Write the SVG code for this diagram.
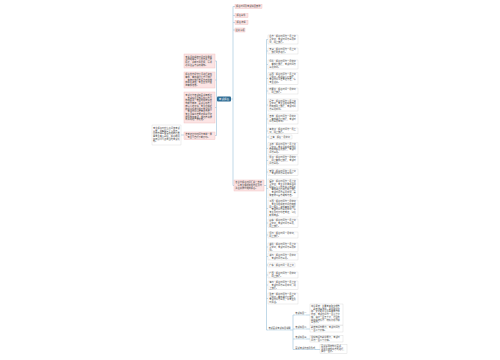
<svg xmlns="http://www.w3.org/2000/svg" width="500" height="360" viewBox="0 0 500 360">
<style>
.pk{fill:#fce4e4;stroke:#eeb9b9;stroke-width:0.4}
.wt{fill:#fff;stroke:#d5d5d5;stroke-width:0.4}
.t text{font-family:"Noto Sans CJK SC","Noto Sans",sans-serif;font-size:6px;fill:#3a3a3a}
.tc{font-family:"Noto Sans CJK SC","Noto Sans",sans-serif;font-size:6px;fill:#fff}
.ln{stroke:#a6c9de;stroke-width:0.7;fill:none}
.ul{stroke:#a6c9de;stroke-width:0.5}
</style>
<rect width="500" height="360" fill="#fff"/>
<g id="connectors">
<path class="ln" d="M231 99 H233 M233 6.5 V185.5 M233 6.5 H235 M233 15.5 H235 M233 22.5 H235 M233 30 H235 M233 185.5 H234"/>
<path class="ln" d="M218 99 H216.5 M216.5 61 V135.5 M216.5 61 H215 M216.5 80 H215 M216.5 107.5 H215 M216.5 135.5 H215 M181 135 H184"/>
<path class="ln" d="M264 185.5 H266.5 M266.5 39.5 V330 H268"/>
<path class="ln" d="M266.5 39.5 H268 M266.5 51 H268 M266.5 64.5 H268 M266.5 78.5 H268 M266.5 91 H268 M266.5 105 H268 M266.5 119 H268 M266.5 131 H268 M266.5 137 H269 M266.5 148.5 H268 M266.5 160.5 H268 M266.5 172 H268 M266.5 188.5 H268 M266.5 208.5 H268 M266.5 223 H268 M266.5 235 H268 M266.5 247 H268 M266.5 256.5 H268 M266.5 265 H268 M266.5 275 H268 M266.5 285 H268 M266.5 298.5 H268"/>
<path class="ln" d="M290 330 H293 M293 315 V349.5 M293 315 H295 M293 329 H295 M293 339 H295 M293 349.5 H295 M306 315 H310 M306 329 H310 M306 339 H310 M315 349.5 H320"/>
</g>
<g id="center"><rect x="217" y="96.5" width="14" height="5" rx="1" fill="#2c6b93"/><text class="tc" transform="translate(218.8 100.1) scale(.43)">考试报名</text></g>
<g id="top1"><rect class="pk" x="235" y="4.5" width="27" height="4"/><g class="t" transform="translate(236 7.4) scale(.37)"><text>报名时间及考试科目安排</text></g></g>
<g id="top2"><rect class="pk" x="235" y="13.5" width="13" height="4"/><g class="t" transform="translate(236.5 16.4) scale(.37)"><text>报名条件</text></g></g>
<g id="top3"><rect class="pk" x="235" y="20.5" width="13" height="4"/><g class="t" transform="translate(236.5 23.4) scale(.37)"><text>报名流程</text></g></g>
<g id="top4"><rect class="pk" x="235" y="28" width="10" height="4"/><g class="t" transform="translate(235.6 30.9) scale(.37)"><text>注意事项</text></g></g>
<g id="left1"><rect class="pk" x="184" y="54" width="31" height="14"/><g class="t" transform="translate(185.3 57.6) scale(.37)"><text>考生须在规定时间内登录报</text><text y="7.3">名网站填写个人信息并上传</text><text y="14.6">照片，逾期不再补报，请务</text><text y="21.9">必关注官方最新通知。</text></g></g>
<g id="left2"><rect class="pk" x="184" y="72" width="31" height="16"/><g class="t" transform="translate(185.3 75.25) scale(.37)"><text>报名信息提交后须进行资格</text><text y="7.3">审核，审核通过后方可缴费</text><text y="14.6">，未按时缴费者视为自动放</text><text y="21.9">弃报名资格，考生应及时查</text><text y="29.2">询审核结果。</text></g></g>
<g id="left3"><rect class="pk" x="184" y="92" width="31" height="31"/><g class="t" transform="translate(185.3 96) scale(.37)"><text>考试分为笔试和面试两部分</text><text y="7.3">，笔试科目全部合格后方可</text><text y="14.6">参加面试，笔试单科成绩有</text><text y="21.9">效期为两年，面试合格者可</text><text y="29.2">申请认定证书，考生应根据</text><text y="36.5">所报学段选择相应考试科目</text><text y="43.8">，考试时间以准考证为准，</text><text y="51.1">考生须携带准考证和身份证</text><text y="58.4">原件参加考试，违纪者将按</text><text y="65.7">有关规定严肃处理。</text></g></g>
<g id="left4"><rect class="pk" x="184" y="132" width="31" height="7.5"/><g class="t" transform="translate(185.3 135.05) scale(.37)"><text>准考证打印时间为考前一周</text><text y="7.3">，考生可自行下载打印。</text></g></g>
<g id="left5"><rect class="wt" x="152" y="125" width="29" height="20"/><g class="t" transform="translate(153 128.9) scale(.37)"><text>考生报名时应认真阅读考试</text><text y="7.3">公告，如实填写个人信息，</text><text y="14.6">因信息填写错误造成的后果</text><text y="21.9">由考生本人承担，报名期间</text><text y="29.2">如有疑问可咨询当地考试机</text><text y="36.5">构。</text></g></g>
<g id="mid"><rect class="pk" x="234" y="180" width="30" height="11"/><g class="t" transform="translate(235.3 183.45) scale(.37)"><text>各省份报名时间汇总一览表</text><text y="7.3">，请考生根据所在地区及时</text><text y="14.6">关注并按时完成报名。</text></g></g>
<g id="r1"><rect class="wt" x="268" y="35" width="30" height="9"/><g class="t" transform="translate(269.2 37.45) scale(.37)"><text>北京：报名时间为一月上旬</text><text y="7.3">至中旬，考试时间为三月中</text><text y="14.6">旬，网上缴费。</text></g></g>
<g id="r2"><rect class="wt" x="268" y="48" width="30" height="6"/><g class="t" transform="translate(269.2 50.3) scale(.37)"><text>天津：报名时间为一月上旬</text><text y="7.3">，缴费同步进行。</text></g></g>
<g id="r3"><rect class="wt" x="268" y="60" width="30" height="9"/><g class="t" transform="translate(269.2 62.45) scale(.37)"><text>河北：报名时间为一月中旬</text><text y="7.3">，审核后缴费，考试时间为</text><text y="14.6">三月中旬。</text></g></g>
<g id="r4"><rect class="wt" x="268" y="72.8" width="30" height="11.4"/><g class="t" transform="translate(269.2 75) scale(.37)"><text>山西：报名时间为一月上旬</text><text y="7.3">至中旬，现场确认后缴费，</text><text y="14.6">考试时间以准考证为准，请</text><text y="21.9">考生注意。</text></g></g>
<g id="r5"><rect class="wt" x="268" y="88" width="30" height="6"/><g class="t" transform="translate(269.2 90.3) scale(.37)"><text>内蒙古：报名时间一月中旬</text><text y="7.3">，网上缴费。</text></g></g>
<g id="r6"><rect class="wt" x="268" y="99" width="30" height="12"/><g class="t" transform="translate(269.2 101.6) scale(.37)"><text>辽宁：报名时间为一月上旬</text><text y="7.3">至中旬，考生须在规定时间</text><text y="14.6">内完成网上缴费，考试时间</text><text y="21.9">为三月中旬。</text></g></g>
<g id="r7"><rect class="wt" x="268" y="114" width="30" height="10"/><g class="t" transform="translate(269.2 116.95) scale(.37)"><text>吉林：报名时间为一月中旬</text><text y="7.3">，审核通过后缴费，考试时</text><text y="14.6">间为三月中旬。</text></g></g>
<g id="r8"><rect class="wt" x="268" y="128" width="30" height="5.8"/><g class="t" transform="translate(269.2 130.15) scale(.37)"><text>黑龙江：报名时间为一月上</text><text y="7.3">旬，网上缴费。</text></g></g>
<g id="r9"><rect class="wt" x="269" y="135" width="23" height="4"/><g class="t" transform="translate(270 137.9) scale(.37)"><text>上海：报名一月中旬</text></g></g>
<g id="r10"><rect class="wt" x="268" y="142.8" width="30" height="11.4"/><g class="t" transform="translate(269.2 145) scale(.37)"><text>江苏：报名时间为一月上旬</text><text y="7.3">至中旬，考生须在规定时间</text><text y="14.6">内完成报名及缴费，考试时</text><text y="21.9">间为三月。</text></g></g>
<g id="r11"><rect class="wt" x="268" y="156" width="30" height="9"/><g class="t" transform="translate(269.2 158.45) scale(.37)"><text>浙江：报名时间为一月中旬</text><text y="7.3">，网上审核后缴费，考试时</text><text y="14.6">间为三月。</text></g></g>
<g id="r12"><rect class="wt" x="268" y="169" width="30" height="6.5"/><g class="t" transform="translate(269.2 171.55) scale(.37)"><text>安徽：报名时间为一月上旬</text><text y="7.3">，考试时间为三月中旬。</text></g></g>
<g id="r13"><rect class="wt" x="268" y="179" width="30" height="19"/><g class="t" transform="translate(269.2 182.4) scale(.37)"><text>福建：报名时间为一月上旬</text><text y="7.3">至中旬，考生须登录报名网</text><text y="14.6">站填写个人信息并上传照片</text><text y="21.9">，审核通过后进行网上缴费</text><text y="29.2">，考试时间为三月中旬，具</text><text y="36.5">体安排以官方通知为准。</text></g></g>
<g id="r14"><rect class="wt" x="268" y="200" width="30" height="17"/><g class="t" transform="translate(269.2 202.4) scale(.37)"><text>江西：报名时间为一月中旬</text><text y="7.3">，考生须在规定时间内完成</text><text y="14.6">网上报名、资格审核及缴费</text><text y="21.9">，考试时间为三月中旬，请</text><text y="29.2">考生及时打印准考证，以免</text><text y="36.5">影响考试。</text></g></g>
<g id="r15"><rect class="wt" x="268" y="219" width="30" height="8.4"/><g class="t" transform="translate(269.2 221.15) scale(.37)"><text>山东：报名时间为一月上旬</text><text y="7.3">至中旬，考试时间为三月，</text><text y="14.6">网上缴费。</text></g></g>
<g id="r16"><rect class="wt" x="268" y="232" width="30" height="6"/><g class="t" transform="translate(269.2 234.3) scale(.37)"><text>河南：报名时间一月中旬，</text><text y="7.3">网上缴费。</text></g></g>
<g id="r17"><rect class="wt" x="268" y="243" width="30" height="8.4"/><g class="t" transform="translate(269.2 245.15) scale(.37)"><text>湖北：报名时间为一月上旬</text><text y="7.3">至中旬，考试时间为三月中</text><text y="14.6">旬。</text></g></g>
<g id="r18"><rect class="wt" x="268" y="253" width="30" height="7"/><g class="t" transform="translate(269.2 255.8) scale(.37)"><text>湖南：报名时间为一月中旬</text><text y="7.3">，考试时间为三月。</text></g></g>
<g id="r19"><rect class="wt" x="268" y="263" width="27" height="4"/><g class="t" transform="translate(269.2 265.9) scale(.37)"><text>广东：报名时间一月上旬</text></g></g>
<g id="r20"><rect class="wt" x="268" y="272" width="30" height="6"/><g class="t" transform="translate(269.2 274.3) scale(.37)"><text>广西：报名时间为一月中旬</text><text y="7.3">，网上缴费。</text></g></g>
<g id="r21"><rect class="wt" x="268" y="281" width="30" height="8.4"/><g class="t" transform="translate(269.2 283.15) scale(.37)"><text>海南：报名时间为一月上旬</text><text y="7.3">，考试时间为三月中旬，网</text><text y="14.6">上缴费。</text></g></g>
<g id="r22"><rect class="wt" x="268" y="293" width="30" height="11"/><g class="t" transform="translate(269.2 295.1) scale(.37)"><text>重庆：报名时间为一月上旬</text><text y="7.3">至中旬，审核通过后缴费，</text><text y="14.6">考试时间为三月，请考生及</text><text y="21.9">时关注。</text></g></g>
<g id="r23"><g class="t" transform="translate(268.4 329.3) scale(.37)"><text>笔试面试考试科目说明</text></g><line class="ul" x1="268" y1="330" x2="290" y2="330"/></g>
<g id="c1"><g class="t" transform="translate(295.3 314.3) scale(.37)"><text>笔试科目一</text></g><line class="ul" x1="295" y1="315" x2="306" y2="315"/>
<rect class="wt" x="310" y="304" width="33" height="21"/><g class="t" transform="translate(311 307.05) scale(.37)"><text>综合素质：主要考查职业理念</text><text y="7.3">、教育法律法规、教师职业道</text><text y="14.6">德、文化素养以及基本能力等</text><text y="21.9">内容，考试时间为一百二十分</text><text y="29.2">钟，满分一百五十分，题型包</text><text y="36.5">括单项选择题、材料分析题和</text><text y="43.8">写作题。</text></g></g>
<g id="c2"><g class="t" transform="translate(295.3 328.3) scale(.37)"><text>笔试科目二</text></g><line class="ul" x1="295" y1="329" x2="306" y2="329"/>
<rect class="wt" x="310" y="325.5" width="33" height="6.5"/><g class="t" transform="translate(311 328.05) scale(.37)"><text>教育知识与能力，考试时间为</text><text y="7.3">一百二十分钟。</text></g></g>
<g id="c3"><g class="t" transform="translate(295.3 338.3) scale(.37)"><text>笔试科目三</text></g><line class="ul" x1="295" y1="339" x2="306" y2="339"/>
<rect class="wt" x="310" y="335.5" width="33" height="6.5"/><g class="t" transform="translate(311 338.05) scale(.37)"><text>学科知识与教学能力，考试时</text><text y="7.3">间为一百二十分钟。</text></g></g>
<g id="c4"><g class="t" transform="translate(295.3 348.8) scale(.37)"><text>面试考试内容及形式</text></g><line class="ul" x1="295" y1="349.5" x2="315" y2="349.5"/>
<rect class="wt" x="320" y="344.5" width="27" height="9"/><g class="t" transform="translate(321 346.95) scale(.37)"><text>面试采用结构化面试、</text><text y="7.3">试讲及答辩等方式进行，</text><text y="14.6">满分一百分。</text></g></g>
</svg>
